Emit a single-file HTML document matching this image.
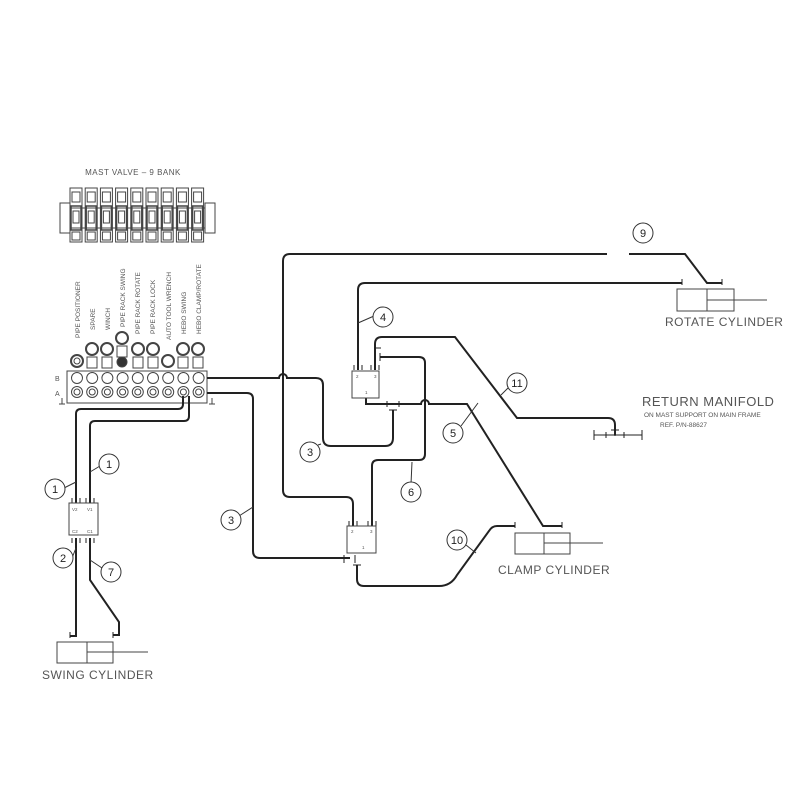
<!DOCTYPE html>
<html><head><meta charset="utf-8"><style>
html,body{margin:0;padding:0;background:#fff}
svg{display:block}
text{font-family:"Liberation Sans",sans-serif;fill:#555}
</style></head><body>
<svg width="812" height="812" viewBox="0 0 812 812" xmlns="http://www.w3.org/2000/svg">
<rect width="812" height="812" fill="#fff"/>
<text x="133" y="175" font-size="8" text-anchor="middle" letter-spacing="0.5">MAST VALVE – 9 BANK</text>
<g stroke="#444" fill="none" stroke-width="1">
<rect x="60" y="203" width="10" height="30"/>
<rect x="205" y="203" width="10" height="30"/>
<line x1="70" y1="208" x2="205" y2="208"/><line x1="70" y1="228" x2="205" y2="228"/>
<g id="sec">
<rect x="70" y="188" width="12" height="54"/>
<rect x="72" y="192" width="8" height="10"/>
<rect x="71" y="206" width="10" height="24" stroke-width="1.5"/>
<rect x="73" y="211" width="6" height="12"/>
<rect x="72" y="232" width="8" height="8"/>
</g>
<use href="#sec" x="15.2"/><use href="#sec" x="30.4"/><use href="#sec" x="45.6"/><use href="#sec" x="60.8"/><use href="#sec" x="76"/><use href="#sec" x="91.2"/><use href="#sec" x="106.4"/><use href="#sec" x="121.6"/>
</g>
<g font-size="6.5">
<text transform="translate(80,338) rotate(-90)">PIPE POSITIONER</text>
<text transform="translate(95,330) rotate(-90)">SPARE</text>
<text transform="translate(110,330) rotate(-90)">WINCH</text>
<text transform="translate(125,327) rotate(-90)">PIPE RACK SWING</text>
<text transform="translate(140,334) rotate(-90)">PIPE RACK ROTATE</text>
<text transform="translate(155,334) rotate(-90)">PIPE RACK LOCK</text>
<text transform="translate(171,340) rotate(-90)">AUTO TOOL WRENCH</text>
<text transform="translate(186,334) rotate(-90)">HEBO SWING</text>
<text transform="translate(201,334) rotate(-90)">HEBO CLAMP/ROTATE</text>
</g>
<g stroke="#444" fill="none" stroke-width="1">
<rect x="67" y="371" width="140" height="32"/>
<g id="col">
<circle cx="77" cy="378" r="5.5"/><circle cx="77" cy="392" r="5.5"/><circle cx="77" cy="392" r="3"/>
</g>
<use href="#col" x="15.2"/><use href="#col" x="30.4"/><use href="#col" x="45.6"/><use href="#col" x="60.8"/><use href="#col" x="76"/><use href="#col" x="91.2"/><use href="#col" x="106.4"/><use href="#col" x="121.6"/>
<circle cx="77" cy="361" r="6" stroke-width="2"/><circle cx="77" cy="361" r="3"/>
<circle cx="92" cy="349" r="6" stroke-width="2"/><rect x="87" y="357" width="10" height="11"/>
<circle cx="107" cy="349" r="6" stroke-width="2"/><rect x="102" y="357" width="10" height="11"/>
<circle cx="122" cy="338" r="6" stroke-width="2"/><rect x="117" y="346" width="10" height="11"/><circle cx="122" cy="362" r="5" fill="#333"/>
<circle cx="138" cy="349" r="6" stroke-width="2"/><rect x="133" y="357" width="10" height="11"/>
<circle cx="153" cy="349" r="6" stroke-width="2"/><rect x="148" y="357" width="10" height="11"/>
<circle cx="168" cy="361" r="6" stroke-width="2"/>
<circle cx="183" cy="349" r="6" stroke-width="2"/><rect x="178" y="357" width="10" height="11"/>
<circle cx="198" cy="349" r="6" stroke-width="2"/><rect x="193" y="357" width="10" height="11"/>
<path d="M62 398 v6 M59 404 h6 M212 398 v6 M209 404 h6"/>
</g>
<text x="55" y="381" font-size="7">B</text>
<text x="55" y="396" font-size="7">A</text>
<g stroke="#222" fill="none" stroke-width="2">
<path d="M183 396 v8 q0 5 -5 5 H81 q-5 0 -5 5 V503"/>
<path d="M189 396 v20 q0 5 -5 5 H95 q-5 0 -5 5 V503"/>
<path d="M76 538 V636 H70"/>
<path d="M90 538 V580 L119 622 V635 H113"/>
<path d="M207 378 H279 a4 4 0 0 1 8 0 H316 q7 0 7 7 V438 q0 8 8 8 H385 q8 0 8 -8 V410"/>
<path d="M207 393 H247 q6 0 6 6 V551 q0 7 7 7 H350"/>
<path d="M607 254 H290 q-7 0 -7 7 V490 q0 7 7 7 H346 q7 0 7 7 V526"/>
<path d="M629 254 H685 L707 283 H722"/>
<path d="M682 283 H365 q-7 0 -7 7 V370"/>
<path d="M375 370 V344 q0 -7 7 -7 H455 L517 418 H608 q7 0 7 7 V435"/>
<path d="M380 357 H419 q6 0 6 6 V454 q0 6 -6 6 H378 q-6 0 -6 6 V526"/>
<path d="M366 398 V404 H421 a4 4 0 0 1 8 0 H467 L543 526 H562"/>
<path d="M515 526 H497 q-5 0 -8 5 L457 575 q-6 11 -18 11 H364 q-7 0 -7 -7 V565"/>
</g>
<g stroke="#222" stroke-width="1">
<path d="M72 498 v5 M80 498 v5 M86 498 v5 M94 498 v5 M72 538 v5 M80 538 v5 M86 538 v5 M94 538 v5"/>
<path d="M70 632 v6 M113 632 v6 M682 279 v6 M722 279 v6 M515 522 v6 M562 522 v6"/>
<path d="M354 365 v5 M362 365 v5 M371 365 v5 M379 365 v5 M380 353 v8 M375 348 h6"/>
<path d="M349 521 v5 M357 521 v5 M368 521 v5 M376 521 v5"/>
<path d="M387 401 v6 M399 401 v6 M389 410 h8 M344 555 v8 M355 555 v8 M353 565 h8"/>
<line x1="594" y1="435" x2="642" y2="435"/>
<path d="M594 430 v10 M606 432 v6 M615 430 v6 M624 432 v6 M642 430 v10 M611 430 h8"/>
</g>
<g stroke="#444" fill="#fff" stroke-width="1">
<rect x="69" y="503" width="29" height="32"/>
<rect x="352" y="371" width="27" height="27"/>
<rect x="347" y="526" width="29" height="27"/>
</g>
<g font-size="4.5" fill="#444">
<text x="72" y="511">V2</text><text x="87" y="511">V1</text>
<text x="72" y="533">C2</text><text x="87" y="533">C1</text>
<text x="356" y="378">2</text><text x="374" y="378">3</text><text x="365" y="394">1</text>
<text x="351" y="533">2</text><text x="370" y="533">3</text><text x="362" y="549">1</text>
</g>
<g stroke="#444" fill="none" stroke-width="1">
<rect x="677" y="289" width="57" height="22"/><line x1="707" y1="289" x2="707" y2="311"/><line x1="707" y1="300" x2="767" y2="300"/>
<rect x="515" y="533" width="55" height="21"/><line x1="544" y1="533" x2="544" y2="554"/><line x1="544" y1="543" x2="603" y2="543"/>
<rect x="57" y="642" width="56" height="21"/><line x1="87" y1="642" x2="87" y2="663"/><line x1="87" y1="652" x2="148" y2="652"/>
</g>
<text x="665" y="326" font-size="12" fill="#666" letter-spacing="0.5">ROTATE CYLINDER</text>
<text x="498" y="574" font-size="12" fill="#666" letter-spacing="0.5">CLAMP CYLINDER</text>
<text x="42" y="679" font-size="12" fill="#666" letter-spacing="0.5">SWING CYLINDER</text>
<text x="642" y="406" font-size="13" fill="#666" letter-spacing="0.5">RETURN MANIFOLD</text>
<text x="644" y="417" font-size="6.5" fill="#555">ON MAST SUPPORT ON MAIN FRAME</text>
<text x="660" y="427" font-size="6.5" fill="#555">REF. P/N-88627</text>
<g stroke="#333" stroke-width="1" fill="none">
<path d="M76 482 L64 488 M90 472 L100 466 M76 548 L70 563 M90 560 L102 568 M253 507 L239 516 M358 323 L374 316 M501 395 L508 388 M478 403 L461 426 M321 444 L318 445 M412 462 L411 484 M476 553 L466 545"/>
</g>
<g stroke="#333" fill="#fff" stroke-width="1">
<circle cx="109" cy="464" r="10"/><circle cx="55" cy="489" r="10"/><circle cx="63" cy="558" r="10"/><circle cx="111" cy="572" r="10"/><circle cx="231" cy="520" r="10"/><circle cx="643" cy="233" r="10"/><circle cx="383" cy="317" r="10"/><circle cx="517" cy="383" r="10"/><circle cx="310" cy="452" r="10"/><circle cx="453" cy="433" r="10"/><circle cx="411" cy="492" r="10"/><circle cx="457" cy="540" r="10"/>
</g>
<g font-size="11" text-anchor="middle">
<text x="109" y="468" style="fill:#222">1</text><text x="55" y="493" style="fill:#222">1</text><text x="63" y="562" style="fill:#222">2</text><text x="111" y="576" style="fill:#222">7</text><text x="231" y="524" style="fill:#222">3</text><text x="643" y="237" style="fill:#222">9</text><text x="383" y="321" style="fill:#222">4</text><text x="517" y="387" style="fill:#222">11</text><text x="310" y="456" style="fill:#222">3</text><text x="453" y="437" style="fill:#222">5</text><text x="411" y="496" style="fill:#222">6</text><text x="457" y="544" style="fill:#222">10</text>
</g>
</svg>
</body></html>
